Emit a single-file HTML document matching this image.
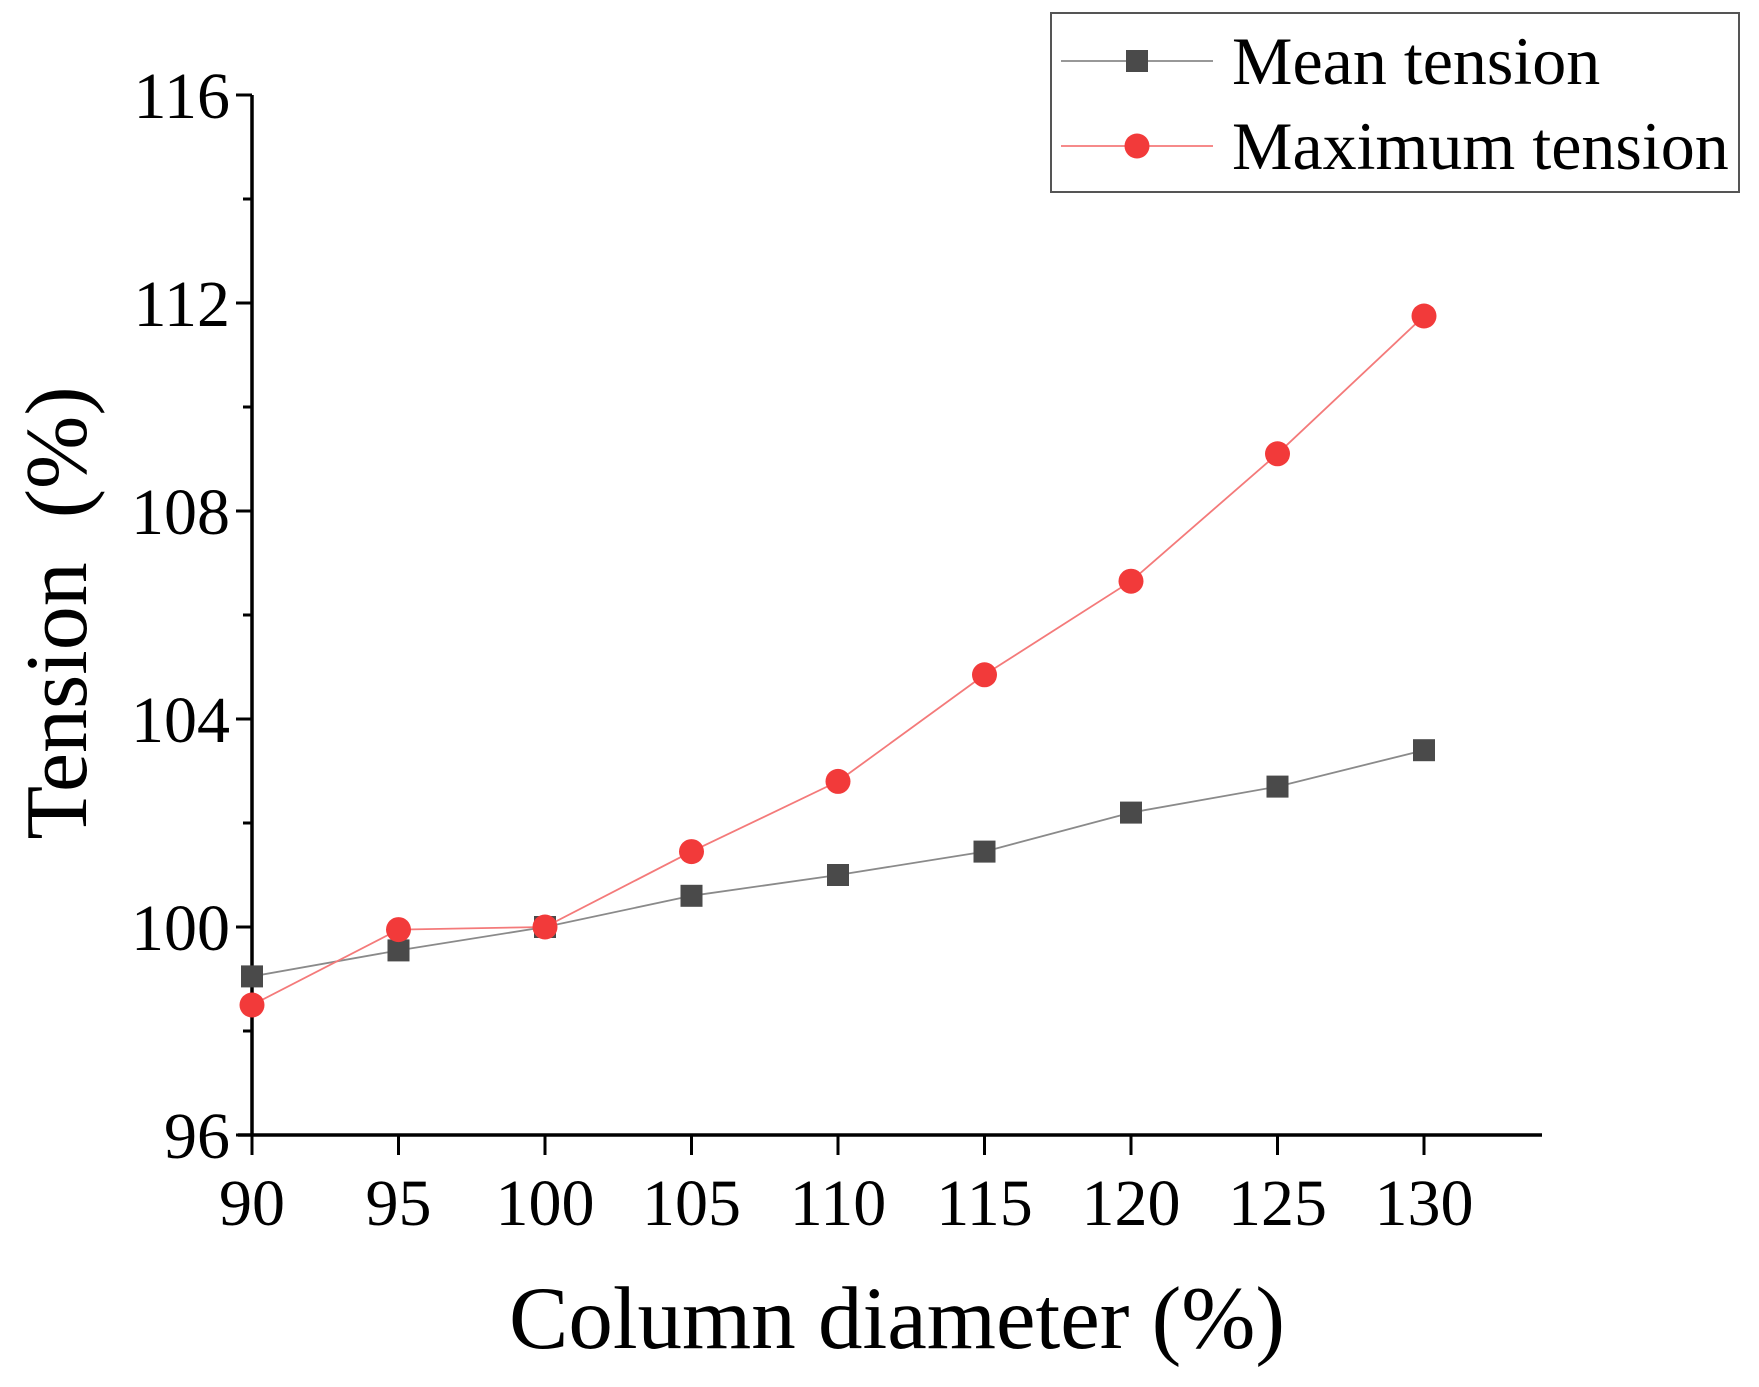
<!DOCTYPE html>
<html><head><meta charset="utf-8"><style>
html,body{margin:0;padding:0;background:#fff;}
svg{display:block;font-family:"Liberation Serif",serif;}
</style></head><body>
<svg id="chart" width="1759" height="1387" viewBox="0 0 1759 1387" xmlns="http://www.w3.org/2000/svg"></svg>
<script>
const categories = [90, 95, 100, 105, 110, 115, 120, 125, 130];
const meanValues = [99.05, 99.55, 100.0, 100.6, 101.0, 101.45, 102.2, 102.7, 103.4];
const maxValues = [98.5, 99.95, 100.0, 101.45, 102.8, 104.85, 106.65, 109.1, 111.75];
const xTicks = [90, 95, 100, 105, 110, 115, 120, 125, 130];
const yTicks = [96, 100, 104, 108, 112, 116];

const X0 = 252, X1 = 1424, XR = 1542, YB = 1135, YT = 95;
const xs = v => X0 + (v - 90) / 40 * (X1 - X0);
const ys = v => YB - (v - 96) / 20 * (YB - YT);
const NS = "http://www.w3.org/2000/svg";
const svg = document.getElementById('chart');
function mk(tag, attrs, parent) {
  const e = document.createElementNS(NS, tag);
  for (const k in attrs) e.setAttribute(k, attrs[k]);
  (parent || svg).appendChild(e);
  return e;
}
const ax = mk('g', {});


mk('line', {x1: X0, y1: YT, x2: X0, y2: YB + 1.5, stroke: '#000', 'stroke-width': 3.5}, ax);
mk('line', {x1: X0 - 14, y1: YB, x2: XR, y2: YB, stroke: '#000', 'stroke-width': 3.5}, ax);
for (let v = 96; v <= 116; v += 2) {
  const major = (v - 96) % 4 === 0;
  mk('line', {x1: X0 - (major ? 16 : 9), y1: ys(v), x2: X0, y2: ys(v), stroke: '#000', 'stroke-width': 3}, ax);
}
yTicks.forEach(v => {
  const t = mk('text', {x: X0 - 22, y: ys(v) + 23, 'text-anchor': 'end', 'font-size': 66}, ax);
  t.textContent = v;
  
  
});
xTicks.forEach(v => {
  mk('line', {x1: xs(v), y1: YB, x2: xs(v), y2: YB + 20, stroke: '#000', 'stroke-width': 3}, ax);
  const t = mk('text', {x: xs(v), y: YB + 90, 'text-anchor': 'middle', 'font-size': 66}, ax);
  t.textContent = v;
  
  
});
const xt = mk('text', {x: 897, y: 1348, 'text-anchor': 'middle', 'font-size': 89});
xt.textContent = 'Column diameter (%)';


const yt = mk('text', {x: 0, y: 0, 'text-anchor': 'middle', 'font-size': 88, transform: 'translate(86,613) rotate(-90)'});
yt.textContent = 'Tension\u00a0\u00a0(%)';


function series(vals, color, lineColor, shape, name) {
  const g = mk('g', {});
  
  
  mk('polyline', {points: vals.map((v, i) => xs(categories[i]) + ',' + ys(v)).join(' '), fill: 'none', stroke: lineColor, 'stroke-width': 1.8}, g);
  vals.forEach((v, i) => {
    let m;
    if (shape === 'sq') m = mk('rect', {x: xs(categories[i]) - 11, y: ys(v) - 11, width: 22, height: 22, fill: color}, g);
    else m = mk('circle', {cx: xs(categories[i]), cy: ys(v), r: 12.5, fill: color}, g);
    
    
  });
}
series(meanValues, '#4a4a4a', '#8a8a8a', 'sq', 'mean-tension-series');
series(maxValues, '#f23a3a', '#f47a7a', 'ci', 'maximum-tension-series');
const lg = mk('g', {});


mk('rect', {x: 1051, y: 13, width: 688, height: 179, fill: '#fff', stroke: '#555', 'stroke-width': 2}, lg);
mk('line', {x1: 1061, y1: 61, x2: 1213, y2: 61, stroke: '#8a8a8a', 'stroke-width': 1.8}, lg);
mk('rect', {x: 1126, y: 50, width: 22, height: 22, fill: '#4a4a4a'}, lg);
mk('line', {x1: 1061, y1: 146, x2: 1213, y2: 146, stroke: '#f47a7a', 'stroke-width': 1.8}, lg);
mk('circle', {cx: 1137, cy: 146, r: 12.5, fill: '#f23a3a'}, lg);
const l1 = mk('text', {x: 1232, y: 84, 'font-size': 68}, lg);
l1.textContent = 'Mean tension';


const l2 = mk('text', {x: 1232, y: 169, 'font-size': 68}, lg);
l2.textContent = 'Maximum tension';


</script>
</body></html>
